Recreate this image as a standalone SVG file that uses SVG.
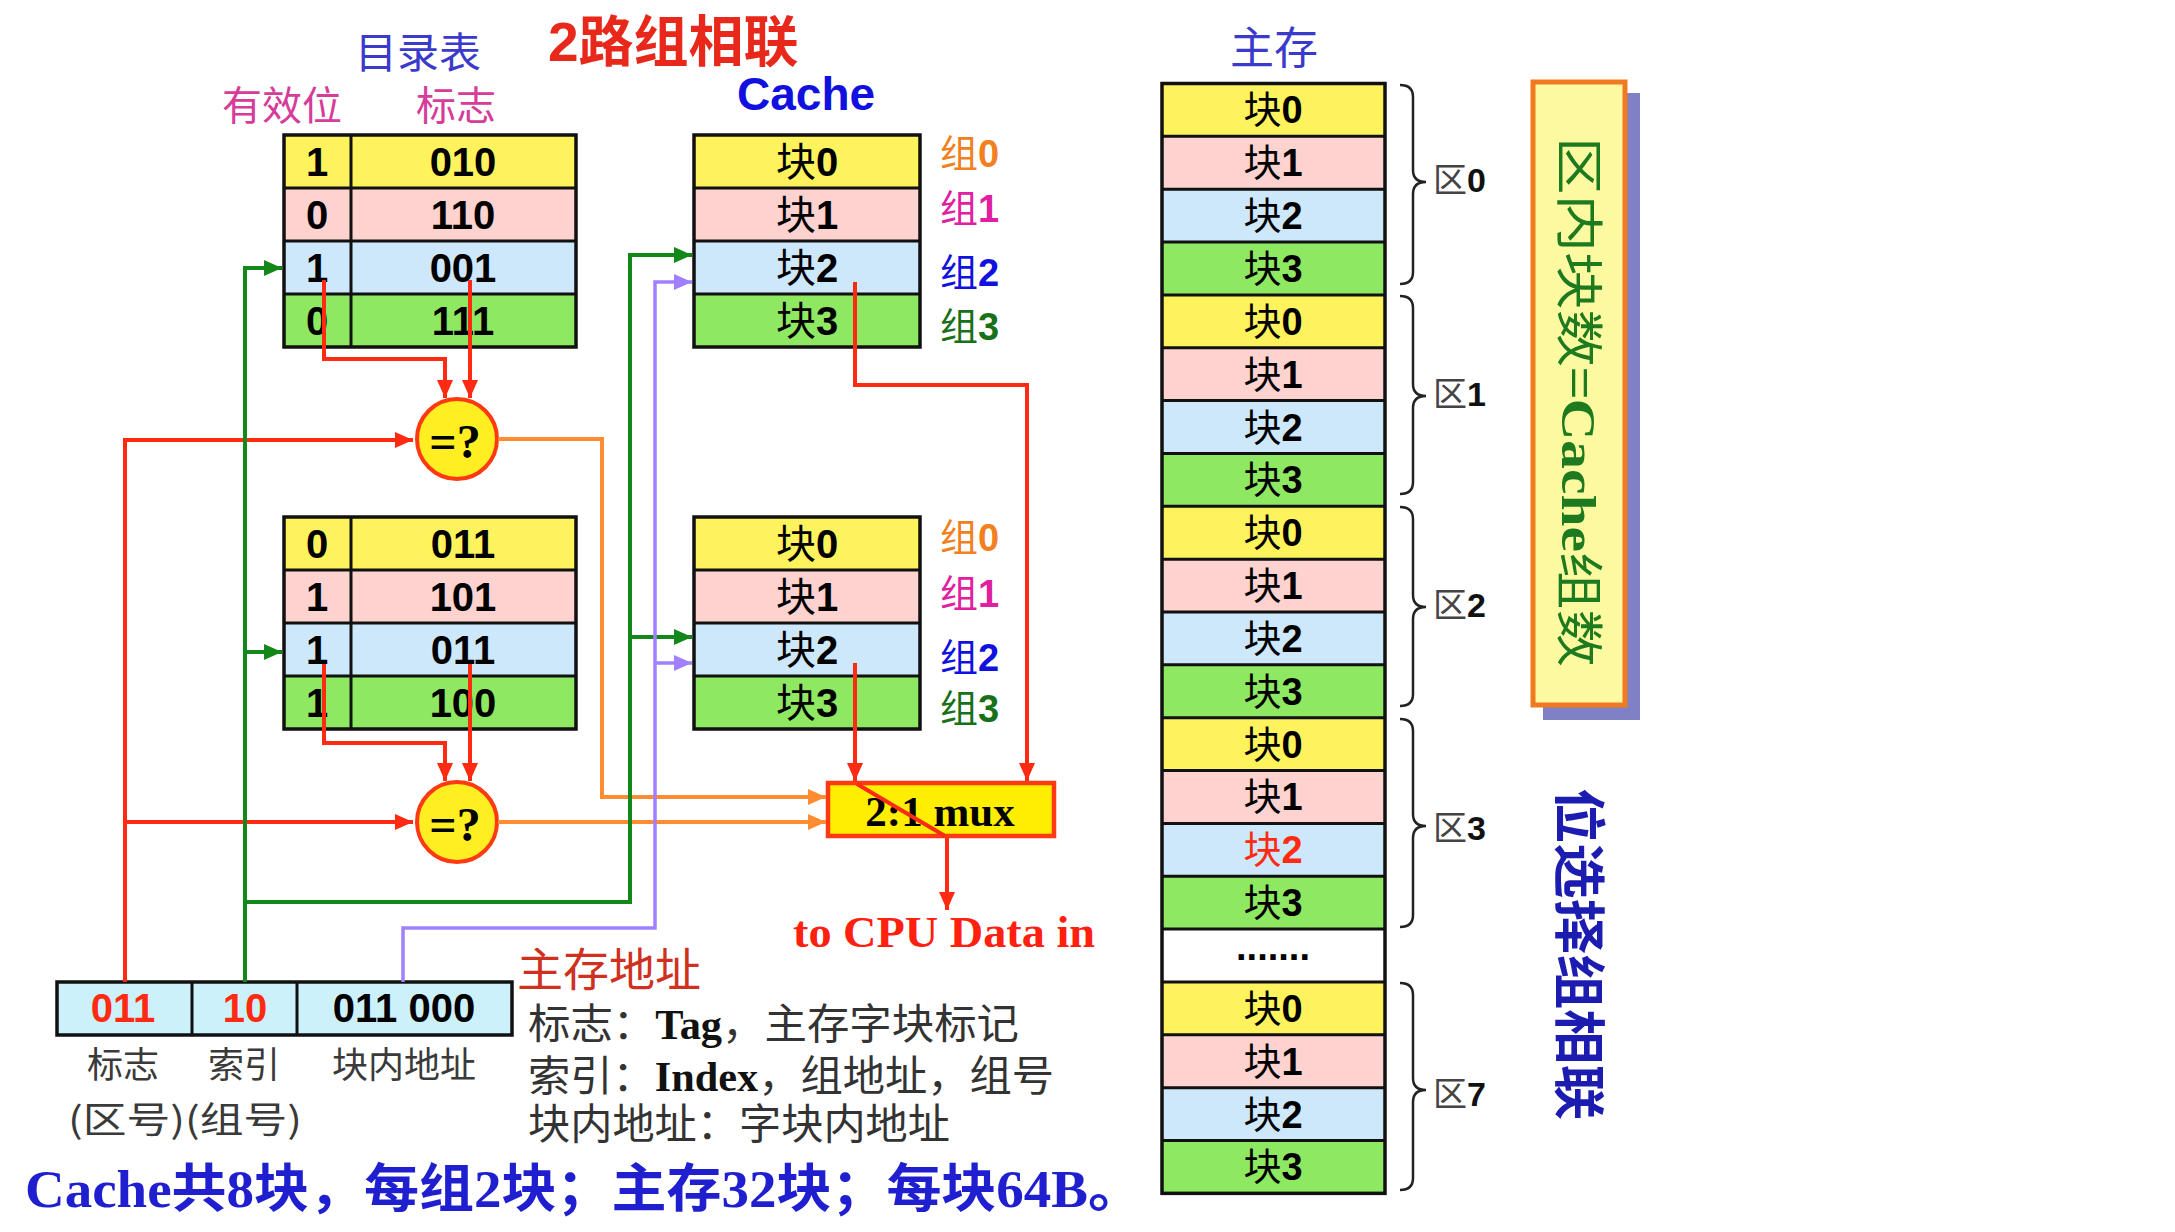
<svg xmlns="http://www.w3.org/2000/svg" width="2175" height="1232" viewBox="0 0 2175 1232">
<style>
.bd{font-family:"Liberation Sans","Noto Sans CJK SC",sans-serif;font-weight:700;font-size:40px;text-anchor:middle;fill:#000}
.mem{font-size:38px}
.k{font-family:"Noto Sans CJK SC",sans-serif;font-weight:400}
.grid{stroke:#111;stroke-width:3;fill:none}
.frame{stroke:#111;stroke-width:3.5;fill:none}
.y{fill:#fef35c}.p{fill:#fdd2cf}.b{fill:#cde8fa}.g{fill:#8fe862}
.cj{font-family:"Noto Sans CJK SC",sans-serif;font-weight:400}
.sf{font-family:"Liberation Serif","Noto Sans CJK SC",serif}
.note{font-family:"Liberation Serif","Noto Sans CJK SC",serif;font-size:42px;fill:#333}
.note tspan.l{font-weight:700;fill:#111}
.grp{font-family:"Liberation Sans","Noto Sans CJK SC",sans-serif;font-weight:700;font-size:38px}
.red{fill:#ff2a12}
.r{stroke:#ff2a12;stroke-width:4;fill:none}
.gr{stroke:#12871a;stroke-width:4;fill:none}
.pu{stroke:#a080ff;stroke-width:3.5;fill:none}
.or{stroke:#ff8c30;stroke-width:4;fill:none}
.brace{stroke:#222;stroke-width:2.5;fill:none}
</style>
<defs>
<marker id="ar" markerUnits="userSpaceOnUse" markerWidth="20" markerHeight="16" refX="18" refY="8" orient="auto"><path d="M0,0 L18,8 L0,16 z" fill="#ff2a12"/></marker>
<marker id="ag" markerUnits="userSpaceOnUse" markerWidth="20" markerHeight="16" refX="18" refY="8" orient="auto"><path d="M0,0 L18,8 L0,16 z" fill="#12871a"/></marker>
<marker id="ap" markerUnits="userSpaceOnUse" markerWidth="20" markerHeight="16" refX="18" refY="8" orient="auto"><path d="M0,0 L18,8 L0,16 z" fill="#a080ff"/></marker>
<marker id="ao" markerUnits="userSpaceOnUse" markerWidth="20" markerHeight="16" refX="18" refY="8" orient="auto"><path d="M0,0 L18,8 L0,16 z" fill="#ff8c30"/></marker>
</defs>
<rect x="0" y="0" width="2175" height="1232" fill="#fff"/>

<g id="titles">
<text x="548" y="61" font-family="Liberation Sans,Noto Sans CJK SC,sans-serif" font-weight="700" font-size="55" fill="#e8281a">2路组相联</text>
<text x="418" y="68" class="cj" font-size="42" fill="#3a3acc" text-anchor="middle">目录表</text>
<text x="222" y="120" class="cj" font-size="40" fill="#d63c9a">有效位</text>
<text x="416" y="120" class="cj" font-size="40" fill="#d63c9a">标志</text>
<text x="737" y="110" font-family="Liberation Sans,sans-serif" font-weight="700" font-size="46" fill="#1010e0">Cache</text>
<text x="1274" y="64" class="cj" font-size="44" fill="#3a3acc" text-anchor="middle">主存</text>
</g>

<g id="directory-1">
<rect x="284" y="135" width="292" height="53" class="y"/>
<rect x="284" y="188" width="292" height="53" class="p"/>
<rect x="284" y="241" width="292" height="53" class="b"/>
<rect x="284" y="294" width="292" height="53" class="g"/>
<path d="M284,188H576M284,241H576M284,294H576M351,135V347" class="grid"/>
<rect x="284" y="135" width="292" height="212" class="frame"/>
<text class="bd" x="317" y="176">1</text><text class="bd" x="463" y="176">010</text>
<text class="bd" x="317" y="229">0</text><text class="bd" x="463" y="229">110</text>
<text class="bd" x="317" y="282">1</text><text class="bd" x="463" y="282">001</text>
<text class="bd" x="317" y="335">0</text><text class="bd" x="463" y="335">111</text>
</g>

<g id="directory-2">
<rect x="284" y="517" width="292" height="53" class="y"/>
<rect x="284" y="570" width="292" height="53" class="p"/>
<rect x="284" y="623" width="292" height="53" class="b"/>
<rect x="284" y="676" width="292" height="53" class="g"/>
<path d="M284,570H576M284,623H576M284,676H576M351,517V729" class="grid"/>
<rect x="284" y="517" width="292" height="212" class="frame"/>
<text class="bd" x="317" y="558">0</text><text class="bd" x="463" y="558">011</text>
<text class="bd" x="317" y="611">1</text><text class="bd" x="463" y="611">101</text>
<text class="bd" x="317" y="664">1</text><text class="bd" x="463" y="664">011</text>
<text class="bd" x="317" y="717">1</text><text class="bd" x="463" y="717">100</text>
</g>

<g id="cache-1">
<rect x="694" y="135" width="226" height="53" class="y"/>
<rect x="694" y="188" width="226" height="53" class="p"/>
<rect x="694" y="241" width="226" height="53" class="b"/>
<rect x="694" y="294" width="226" height="53" class="g"/>
<path d="M694,188H920M694,241H920M694,294H920" class="grid"/>
<rect x="694" y="135" width="226" height="212" class="frame"/>
<text class="bd" x="807" y="176"><tspan class="k">块</tspan>0</text>
<text class="bd" x="807" y="229"><tspan class="k">块</tspan>1</text>
<text class="bd" x="807" y="282"><tspan class="k">块</tspan>2</text>
<text class="bd" x="807" y="335"><tspan class="k">块</tspan>3</text>
<text class="grp" x="940" y="167" fill="#f08020"><tspan class="k">组</tspan>0</text>
<text class="grp" x="940" y="222" fill="#e020a0"><tspan class="k">组</tspan>1</text>
<text class="grp" x="940" y="286" fill="#1010e0"><tspan class="k">组</tspan>2</text>
<text class="grp" x="940" y="340" fill="#187018"><tspan class="k">组</tspan>3</text>
</g>

<g id="cache-2">
<rect x="694" y="517" width="226" height="53" class="y"/>
<rect x="694" y="570" width="226" height="53" class="p"/>
<rect x="694" y="623" width="226" height="53" class="b"/>
<rect x="694" y="676" width="226" height="53" class="g"/>
<path d="M694,570H920M694,623H920M694,676H920" class="grid"/>
<rect x="694" y="517" width="226" height="212" class="frame"/>
<text class="bd" x="807" y="558"><tspan class="k">块</tspan>0</text>
<text class="bd" x="807" y="611"><tspan class="k">块</tspan>1</text>
<text class="bd" x="807" y="664"><tspan class="k">块</tspan>2</text>
<text class="bd" x="807" y="717"><tspan class="k">块</tspan>3</text>
<text class="grp" x="940" y="551" fill="#f08020"><tspan class="k">组</tspan>0</text>
<text class="grp" x="940" y="607" fill="#e020a0"><tspan class="k">组</tspan>1</text>
<text class="grp" x="940" y="671" fill="#1010e0"><tspan class="k">组</tspan>2</text>
<text class="grp" x="940" y="722" fill="#187018"><tspan class="k">组</tspan>3</text>
</g>

<g id="comparator-1">
<circle cx="457" cy="439" r="40" fill="#ffee22" stroke="#ff3a12" stroke-width="4"/>
<text x="455" y="458" class="sf" font-weight="700" font-size="48" text-anchor="middle" fill="#000">=?</text>
</g>
<g id="comparator-2">
<circle cx="457" cy="822" r="40" fill="#ffee22" stroke="#ff3a12" stroke-width="4"/>
<text x="455" y="841" class="sf" font-weight="700" font-size="48" text-anchor="middle" fill="#000">=?</text>
</g>

<g id="mux">
<rect x="828" y="783" width="226" height="53" fill="#ffee00" stroke="#ff3a12" stroke-width="4.5"/>
<text x="940" y="826" class="sf" font-weight="700" font-size="43" text-anchor="middle" fill="#000">2:1 mux</text>
</g>

<g id="address">
<rect x="57" y="982" width="455" height="53" fill="#ccf1fa"/>
<path d="M192,982V1035M297,982V1035" class="grid"/>
<rect x="57" y="982" width="455" height="53" class="frame"/>
<text class="bd red" x="123" y="1022" font-size="38" style="fill:#ff2a12">011</text>
<text class="bd red" x="245" y="1022" font-size="38" style="fill:#ff2a12">10</text>
<text class="bd" x="404" y="1022" font-size="38">011 000</text>
<text x="123" y="1078" class="cj" font-size="36" fill="#3a3a3a" text-anchor="middle">标志</text>
<text x="244" y="1078" class="cj" font-size="36" fill="#3a3a3a" text-anchor="middle">索引</text>
<text x="404" y="1078" class="cj" font-size="36" fill="#3a3a3a" text-anchor="middle">块内地址</text>
<text x="68" y="1133" class="cj" font-size="36" fill="#3a3a3a" textLength="234" lengthAdjust="spacingAndGlyphs">(区号)(组号)</text>
</g>

<g id="main-memory">
<rect x="1162" y="83.5" width="223" height="52.85" class="y"/>
<rect x="1162" y="136.35" width="223" height="52.85" class="p"/>
<rect x="1162" y="189.2" width="223" height="52.85" class="b"/>
<rect x="1162" y="242.05" width="223" height="52.85" class="g"/>
<rect x="1162" y="294.9" width="223" height="52.85" class="y"/>
<rect x="1162" y="347.75" width="223" height="52.85" class="p"/>
<rect x="1162" y="400.6" width="223" height="52.85" class="b"/>
<rect x="1162" y="453.45" width="223" height="52.85" class="g"/>
<rect x="1162" y="506.3" width="223" height="52.85" class="y"/>
<rect x="1162" y="559.15" width="223" height="52.85" class="p"/>
<rect x="1162" y="612" width="223" height="52.85" class="b"/>
<rect x="1162" y="664.85" width="223" height="52.85" class="g"/>
<rect x="1162" y="717.7" width="223" height="52.85" class="y"/>
<rect x="1162" y="770.55" width="223" height="52.85" class="p"/>
<rect x="1162" y="823.4" width="223" height="52.85" class="b"/>
<rect x="1162" y="876.25" width="223" height="52.85" class="g"/>
<rect x="1162" y="929.1" width="223" height="52.85" fill="#fff"/>
<rect x="1162" y="981.95" width="223" height="52.85" class="y"/>
<rect x="1162" y="1034.8" width="223" height="52.85" class="p"/>
<rect x="1162" y="1087.65" width="223" height="52.85" class="b"/>
<rect x="1162" y="1140.5" width="223" height="52.85" class="g"/>
<path class="grid" d="M1162,136.35H1385M1162,189.2H1385M1162,242.05H1385M1162,294.9H1385M1162,347.75H1385M1162,400.6H1385M1162,453.45H1385M1162,506.3H1385M1162,559.15H1385M1162,612H1385M1162,664.85H1385M1162,717.7H1385M1162,770.55H1385M1162,823.4H1385M1162,876.25H1385M1162,929.1H1385M1162,981.95H1385M1162,1034.8H1385M1162,1087.65H1385M1162,1140.5H1385"/>
<rect x="1162" y="83.5" width="223" height="1109.85" class="frame"/>
<g class="bd mem">
<text x="1273" y="123.4"><tspan class="k">块</tspan>0</text>
<text x="1273" y="176.25"><tspan class="k">块</tspan>1</text>
<text x="1273" y="229.1"><tspan class="k">块</tspan>2</text>
<text x="1273" y="281.95"><tspan class="k">块</tspan>3</text>
<text x="1273" y="334.8"><tspan class="k">块</tspan>0</text>
<text x="1273" y="387.65"><tspan class="k">块</tspan>1</text>
<text x="1273" y="440.5"><tspan class="k">块</tspan>2</text>
<text x="1273" y="493.35"><tspan class="k">块</tspan>3</text>
<text x="1273" y="546.2"><tspan class="k">块</tspan>0</text>
<text x="1273" y="599.05"><tspan class="k">块</tspan>1</text>
<text x="1273" y="651.9"><tspan class="k">块</tspan>2</text>
<text x="1273" y="704.75"><tspan class="k">块</tspan>3</text>
<text x="1273" y="757.6"><tspan class="k">块</tspan>0</text>
<text x="1273" y="810.45"><tspan class="k">块</tspan>1</text>
<text x="1273" y="863.3" style="fill:#ff2a12"><tspan class="k">块</tspan>2</text>
<text x="1273" y="916.15"><tspan class="k">块</tspan>3</text>
<text x="1273" y="960">.......</text>
<text x="1273" y="1021.85"><tspan class="k">块</tspan>0</text>
<text x="1273" y="1074.7"><tspan class="k">块</tspan>1</text>
<text x="1273" y="1127.55"><tspan class="k">块</tspan>2</text>
<text x="1273" y="1180.4"><tspan class="k">块</tspan>3</text>
</g>
</g>

<g id="regions">
<path class="brace" d="M1400,85 Q1413,85 1413,97 V170 Q1413,182 1426,182 Q1413,182 1413,194 V272 Q1413,284 1400,284"/>
<path class="brace" d="M1400,296 Q1413,296 1413,308 V384 Q1413,396 1426,396 Q1413,396 1413,408 V482 Q1413,494 1400,494"/>
<path class="brace" d="M1400,507 Q1413,507 1413,519 V595 Q1413,607 1426,607 Q1413,607 1413,619 V694 Q1413,706 1400,706"/>
<path class="brace" d="M1400,719 Q1413,719 1413,731 V814 Q1413,826 1426,826 Q1413,826 1413,838 V915 Q1413,927 1400,927"/>
<path class="brace" d="M1400,983 Q1413,983 1413,995 V1078 Q1413,1090 1426,1090 Q1413,1090 1413,1102 V1178 Q1413,1190 1400,1190"/>
<g font-family="Liberation Sans,Noto Sans CJK SC,sans-serif" font-weight="700" font-size="34" fill="#111">
<text x="1433" y="192"><tspan class="k" fill="#444">区</tspan>0</text>
<text x="1433" y="406"><tspan class="k" fill="#444">区</tspan>1</text>
<text x="1433" y="617"><tspan class="k" fill="#444">区</tspan>2</text>
<text x="1433" y="840"><tspan class="k" fill="#444">区</tspan>3</text>
<text x="1433" y="1106"><tspan class="k" fill="#444">区</tspan>7</text>
</g>
</g>

<g id="note-box">
<rect x="1543" y="93" width="97" height="627" fill="#8080c4"/>
<rect x="1533" y="82" width="92" height="623" fill="#fdf9a0" stroke="#f07a20" stroke-width="5"/>
<text transform="translate(1578,402) rotate(90)" x="0" y="16" text-anchor="middle" font-family="Liberation Serif,Noto Sans CJK SC,serif" font-weight="700" font-size="48" fill="#1e7a1e" textLength="530" lengthAdjust="spacingAndGlyphs"><tspan class="cj">区内块数=</tspan>Cache<tspan class="cj">组数</tspan></text>
</g>
<g id="side-title">
<text transform="translate(1578,954) rotate(90)" x="0" y="18" text-anchor="middle" font-family="Noto Sans CJK SC,sans-serif" font-weight="700" font-size="52" fill="#1c1cb0" textLength="332" lengthAdjust="spacingAndGlyphs">位选择组相联</text>
</g>

<g id="connectors">
<path class="r" d="M125,982V440H413" marker-end="url(#ar)"/>
<path class="r" d="M125,822H413" marker-end="url(#ar)"/>
<path class="r" d="M324,280V359H445V398" marker-end="url(#ar)"/>
<path class="r" d="M470,280V398" marker-end="url(#ar)"/>
<path class="r" d="M324,664V743H445V781" marker-end="url(#ar)"/>
<path class="r" d="M470,664V781" marker-end="url(#ar)"/>
<path class="r" d="M855,282V385H1027V781" marker-end="url(#ar)"/>
<path class="r" d="M855,663V781" marker-end="url(#ar)"/>
<path class="r" d="M857,784L945,836"/>
<path class="r" d="M947,838V910" marker-end="url(#ar)"/>
<path class="or" d="M498,439H602V797H826" marker-end="url(#ao)"/>
<path class="or" d="M498,822H826" marker-end="url(#ao)"/>
<path class="gr" d="M245,982V268H282" marker-end="url(#ag)"/>
<path class="gr" d="M245,652H282" marker-end="url(#ag)"/>
<path class="gr" d="M245,902H630V255H692" marker-end="url(#ag)"/>
<path class="gr" d="M630,637H692" marker-end="url(#ag)"/>
<path class="pu" d="M403,982V928H655V282H692" marker-end="url(#ap)"/>
<path class="pu" d="M655,663H692" marker-end="url(#ap)"/>
</g>

<g id="notes">
<text x="793" y="947" class="sf" font-weight="700" font-size="45" fill="#ff2010" textLength="302" lengthAdjust="spacingAndGlyphs">to CPU Data in</text>
<text x="517" y="986" class="cj" font-size="46" fill="#d03020">主存地址</text>
<text x="528" y="1039" class="note" textLength="491" lengthAdjust="spacingAndGlyphs">标志：<tspan class="l">Tag</tspan>，主存字块标记</text>
<text x="528" y="1091" class="note" textLength="526" lengthAdjust="spacingAndGlyphs">索引：<tspan class="l">Index</tspan>，组地址，组号</text>
<text x="528" y="1139" class="note" textLength="422" lengthAdjust="spacingAndGlyphs">块内地址：字块内地址</text>
<text x="25" y="1207" class="sf" font-weight="700" font-size="52" fill="#1f1fd0" textLength="1118" lengthAdjust="spacingAndGlyphs">Cache共8块，每组2块；主存32块；每块64B。</text>
</g>
</svg>
